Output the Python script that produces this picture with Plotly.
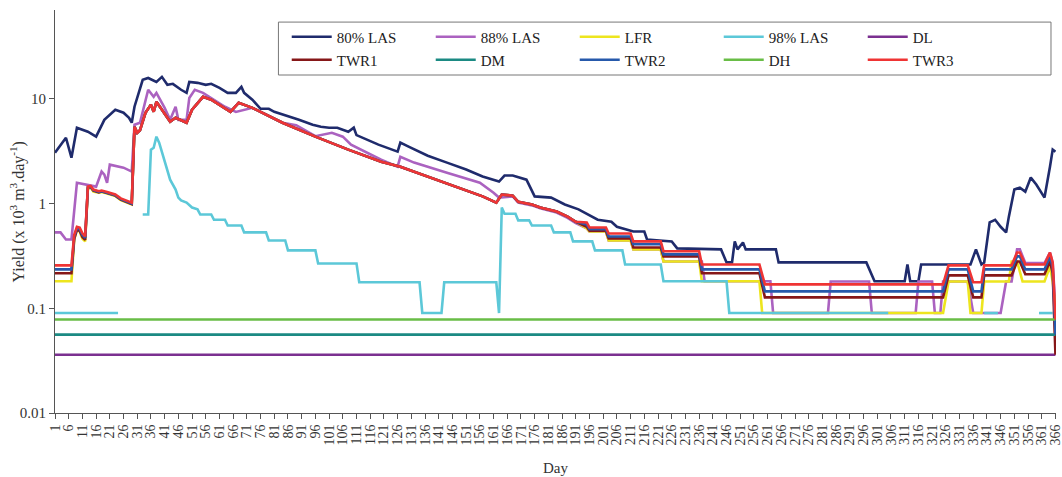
import plotly.graph_objects as go

FONT = "Liberation Serif"

# ---- 80% LAS ----
las80_days = [1, 3, 5, 7, 9, 13, 16, 19, 23, 26, 28, 29, 30, 33, 35, 38, 40, 42, 44, 47, 49, 50,
              53, 56, 58, 61, 64, 67, 69, 70, 73, 76, 79, 81, 85, 90, 95, 98, 101, 104, 108, 110,
              111, 119, 126, 127, 130, 137, 144, 151, 157, 163, 165, 168, 173, 176, 182, 187, 192,
              195, 199, 204, 206, 212, 216, 217, 226, 228, 244, 246, 248, 249, 250, 252, 253, 264,
              265, 297, 300, 311, 312, 313, 316, 317, 335, 337, 339, 340, 342, 344, 346, 348, 349,
              351, 353, 355, 357, 359, 362, 364, 365, 366]
las80_vals = [3.06, 3.65, 4.25, 2.74, 5.3, 4.85, 4.35, 6.3, 7.86, 7.36, 6.59, 5.91, 8.4, 15.2, 15.8,
              14.5, 16.2, 13.6, 13.9, 12.2, 11.4, 14.5, 14.2, 13.6, 13.9, 12.7, 11.4, 11.4, 13.0,
              11.4, 9.8, 8.03, 8.03, 7.52, 7.0, 6.3, 5.65, 5.41, 5.3, 5.3, 4.85, 5.3, 4.5, 3.65,
              3.13, 3.81, 3.49, 2.86, 2.46, 2.11, 1.81, 1.62, 1.85, 1.85, 1.69, 1.17, 1.14, 0.98,
              0.88, 0.80, 0.70, 0.67, 0.60, 0.54, 0.54, 0.454, 0.435, 0.373, 0.365, 0.274, 0.274,
              0.435, 0.365, 0.425, 0.365, 0.365, 0.274, 0.274, 0.181, 0.181, 0.262, 0.181, 0.181,
              0.262, 0.262, 0.365, 0.262, 0.274, 0.66, 0.70, 0.60, 0.53, 0.75, 1.36, 1.42, 1.30,
              1.77, 1.52, 1.14, 2.25, 3.27, 3.13]

# ---- 88% LAS ----
las88_days = [1, 3, 5, 7, 9, 12, 16, 18, 19, 20, 21, 26, 29, 30, 32, 35, 37, 38, 41, 43, 45, 46,
              49, 50, 52, 55, 58, 63, 67, 73, 84, 89, 96, 102, 106, 109, 120, 126, 127, 132, 144,
              156, 161, 163, 168, 170, 175, 178, 184, 188, 191, 195, 196, 202, 203, 211, 212, 222,
              223, 237, 238, 262, 263, 283, 284, 298, 299, 315, 316, 321, 322, 324, 325, 334, 336,
              346, 348, 350, 352, 353, 355, 362, 364, 365, 366]
las88_vals = [0.53, 0.53, 0.454, 0.454, 1.58, 1.52, 1.45, 2.02, 1.89, 1.58, 2.35, 2.2, 2.02, 5.65,
              5.9, 12.2, 10.45, 11.4, 8.2, 6.3, 8.4, 6.3, 6.3, 10.2, 12.2, 11.4, 10.2, 8.4, 7.5,
              8.2, 5.91, 5.6, 4.4, 4.74, 4.35, 3.65, 2.62, 2.25, 2.8, 2.46, 1.97, 1.58, 1.27, 1.14,
              1.17, 1.02, 0.96, 0.9, 0.82, 0.73, 0.65, 0.58, 0.54, 0.54, 0.444, 0.444, 0.365,
              0.365, 0.28, 0.28, 0.181, 0.181, 0.09, 0.09, 0.18, 0.18, 0.09, 0.09, 0.18, 0.18,
              0.09, 0.09, 0.18, 0.18, 0.09, 0.09, 0.18, 0.18, 0.365, 0.365, 0.27, 0.27, 0.34,
              0.27, 0.1]

# ---- 98% LAS (None = no yield that day) ----
las98_days = [1, 24, 25, 33, 35, 36, 37, 38, 39, 43, 45, 46, 47, 49, 51, 53, 54, 58, 59, 63, 64,
              69, 70, 78, 79, 85, 86, 96, 97, 111, 112, 134, 135, 142, 143, 162, 163, 164, 165,
              169, 170, 174, 175, 182, 183, 189, 190, 197, 198, 208, 209, 222, 223, 246, 247, 305,
              306, 340, 345, 346, 360, 365]
las98_vals = [0.09, 0.09, None, 0.786, 0.786, 3.27, 3.41, 4.35, 3.81, 1.69, 1.36, 1.14, 1.07, 1.02,
              0.915, 0.88, 0.786, 0.786, 0.70, 0.70, 0.617, 0.617, 0.53, 0.53, 0.444, 0.444, 0.357,
              0.357, 0.268, 0.268, 0.177, 0.177, 0.09, 0.09, 0.177, 0.177, 0.09, 0.915, 0.80,
              0.80, 0.69, 0.69, 0.617, 0.617, 0.53, 0.53, 0.435, 0.435, 0.357, 0.357, 0.262,
              0.262, 0.181, 0.181, 0.09, 0.09, None, 0.09, 0.09, None, 0.09, 0.09]

# ---- constant demand lines ----
dl_days, dl_vals = [1, 366], [0.036, 0.036]
dm_days, dm_vals = [1, 366], [0.056, 0.056]
dh_days, dh_vals = [1, 366], [0.078, 0.078]

# ---- LFR / TWR1 / TWR2 / TWR3: start, common season, tail ----
start_days = [1, 7, 8, 9, 10, 11, 12, 13, 14, 15, 17, 18, 20, 21, 23, 25, 27, 29]
lfr_start = [0.181, 0.181, 0.45, 0.565, 0.54, 0.46, 0.435, 1.38, 1.42, 1.3, 1.27, 1.29, 1.25,
             1.22, 1.18, 1.08, 1.03, 0.98]
twr1_start = [0.216, 0.216, 0.46, 0.56, 0.55, 0.48, 0.45, 1.42, 1.44, 1.33, 1.28, 1.3, 1.26,
              1.24, 1.19, 1.09, 1.04, 0.99]
twr2_start = [0.235, 0.235, 0.48, 0.58, 0.57, 0.5, 0.47, 1.43, 1.45, 1.34, 1.29, 1.31, 1.27,
              1.25, 1.2, 1.1, 1.05, 1.0]
twr3_start = [0.257, 0.257, 0.5, 0.6, 0.59, 0.52, 0.485, 1.45, 1.47, 1.36, 1.31, 1.33, 1.29,
              1.27, 1.22, 1.12, 1.07, 1.02]

season_days = [30, 31, 32, 34, 36, 37, 38, 40, 43, 45, 49, 51, 55, 58, 65, 68, 73, 84, 96, 108,
               120, 127, 133, 145, 157, 162, 164, 168, 170, 175, 178, 184, 188, 191]
season_vals = [5.41, 4.74, 5.0, 7.36, 8.8, 7.52, 9.36, 7.86, 6.04, 6.59, 5.91, 7.86, 10.45, 9.8,
               7.52, 9.16, 8.2, 5.91, 4.35, 3.27, 2.51, 2.25, 1.97, 1.52, 1.17, 1.02, 1.22, 1.19,
               1.04, 0.98, 0.916, 0.84, 0.75, 0.67]

tail_days = [195, 196, 202, 203, 211, 212, 222, 223, 236, 237, 258, 260, 325, 327, 334, 336, 339,
             340, 350, 352, 353, 355, 362, 364, 365, 366]
twr3_tail = [0.66, 0.59, 0.59, 0.518, 0.518, 0.435, 0.435, 0.35, 0.35, 0.262, 0.262, 0.169,
             0.169, 0.257, 0.257, 0.177, 0.177, 0.257, 0.257, 0.341, 0.341, 0.262, 0.262, 0.341,
             0.274, 0.078]
twr2_tail = [0.63, 0.57, 0.57, 0.485, 0.485, 0.41, 0.41, 0.327, 0.327, 0.235, 0.235, 0.145,
             0.145, 0.235, 0.235, 0.145, 0.145, 0.235, 0.235, 0.313, 0.313, 0.235, 0.235, 0.313,
             0.246, 0.056]
twr1_tail = [0.6, 0.55, 0.55, 0.465, 0.465, 0.38, 0.38, 0.313, 0.313, 0.216, 0.216, 0.127, 0.127,
             0.206, 0.206, 0.127, 0.127, 0.206, 0.206, 0.28, 0.28, 0.211, 0.211, 0.28, 0.216,
             0.036]
lfr_tail_days = [195, 196, 202, 203, 211, 212, 222, 223, 236, 237, 258, 259, 325, 327, 334, 335,
                 339, 340, 349, 350, 352, 354, 362, 364, 365, 366]
lfr_tail = [0.58, 0.54, 0.54, 0.444, 0.444, 0.365, 0.365, 0.28, 0.28, 0.181, 0.181, 0.09, 0.09,
            0.18, 0.18, 0.09, 0.09, 0.18, 0.18, 0.28, 0.28, 0.18, 0.18, 0.25, 0.18, 0.1]

tick_days = list(range(1, 367, 5))

lfr_days = start_days + season_days + lfr_tail_days
lfr_vals = lfr_start + season_vals + lfr_tail
twr_days = start_days + season_days + tail_days
twr1_vals = twr1_start + season_vals + twr1_tail
twr2_vals = twr2_start + season_vals + twr2_tail
twr3_vals = twr3_start + season_vals + twr3_tail

series = [
    ("80% LAS", las80_days, las80_vals, "#1f2b6c", "legend"),
    ("88% LAS", las88_days, las88_vals, "#ab62c0", "legend"),
    ("LFR", lfr_days, lfr_vals, "#ede51e", "legend"),
    ("98% LAS", las98_days, las98_vals, "#5cc8d8", "legend"),
    ("DL", dl_days, dl_vals, "#7b3090", "legend"),
    ("TWR1", twr_days, twr1_vals, "#861718", "legend2"),
    ("DM", dm_days, dm_vals, "#1b8a83", "legend2"),
    ("TWR2", twr_days, twr2_vals, "#2659ab", "legend2"),
    ("DH", dh_days, dh_vals, "#69bd46", "legend2"),
    ("TWR3", twr_days, twr3_vals, "#ef3434", "legend2"),
]

fig = go.Figure()
for name, d, v, color, lg in series:
    fig.add_trace(go.Scatter(x=d, y=v, name=name, mode="lines",
                             line=dict(color=color, width=2.6),
                             legend=lg, connectgaps=False))

legend_common = dict(orientation="h", xanchor="left", yanchor="middle", x=0.2315,
                     itemwidth=40, entrywidth=89, entrywidthmode="pixels",
                     bgcolor="rgba(0,0,0,0)", borderwidth=0,
                     font=dict(family=FONT, size=15, color="#222"), traceorder="normal")

fig.update_layout(
    width=1062, height=477,
    margin=dict(l=55, r=6, t=10, b=64, autoexpand=False),
    paper_bgcolor="white", plot_bgcolor="white",
    font=dict(family=FONT, size=14, color="#333"),
    legend=dict(legend_common, y=0.933),
    legend2=dict(legend_common, y=0.876),
    xaxis=dict(range=[1, 366.2], tickmode="array", tickvals=tick_days,
               ticktext=[str(t) for t in tick_days], tickangle=-90, ticklabeloverflow="allow",
               ticks="outside", ticklen=5, tickcolor="#555", showgrid=False, zeroline=False,
               showline=True, linecolor="#555", linewidth=1,
               tickfont=dict(family=FONT, size=14, color="#333")),
    yaxis=dict(type="log", range=[-2, 1.848], tickmode="array",
               tickvals=[0.01, 0.1, 1, 10], ticktext=["0.01", "0.1", "1", "10"],
               ticks="outside", ticklen=5, tickcolor="#555", showgrid=False, zeroline=False,
               showline=True, linecolor="#555", linewidth=1,
               tickfont=dict(family=FONT, size=15, color="#333")),
    shapes=[dict(type="rect", xref="paper", yref="paper", x0=0.2232, x1=0.9950, y0=0.8387,
                 y1=0.970, line=dict(color="#777", width=1), fillcolor="white", layer="below")],
    annotations=[
        dict(text="Yield (x 10<sup>3</sup> m<sup>3</sup>.day<sup>-1</sup>)", xref="paper",
             yref="paper", x=-0.037, y=0.5, textangle=-90, showarrow=False,
             xanchor="center", yanchor="middle", font=dict(family=FONT, size=16, color="#333")),
        dict(text="Day", xref="paper", yref="paper", x=0.5, y=-0.1365, showarrow=False,
             xanchor="center", yanchor="middle", font=dict(family=FONT, size=15, color="#333")),
    ],
)

fig.write_html("out.html")
